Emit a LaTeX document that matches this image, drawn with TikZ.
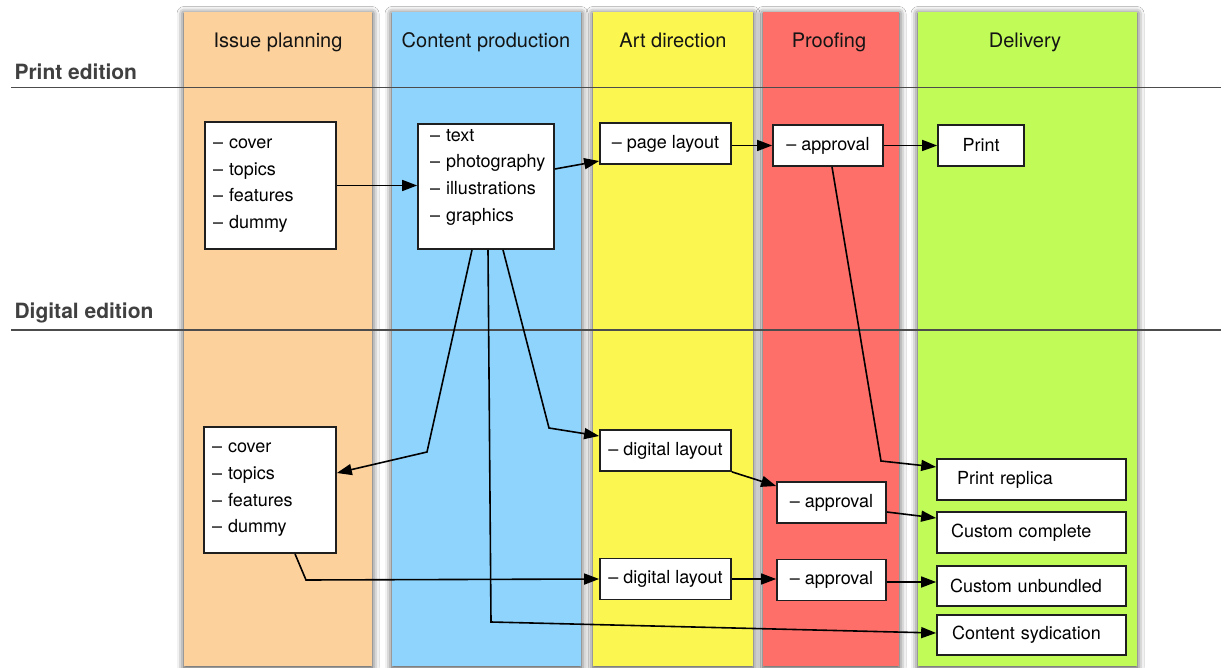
\documentclass[tikz,border=0pt]{standalone}
\usepackage{fontspec}
\setmainfont{TeX Gyre Heros}
\usetikzlibrary{arrows.meta,shadows.blur}

\definecolor{laneplan}{HTML}{FCD19C}
\definecolor{laneprod}{HTML}{8FD4FD}
\definecolor{laneart}{HTML}{FBF750}
\definecolor{laneproof}{HTML}{FE6F6A}
\definecolor{lanedeliv}{HTML}{C1FB58}

\hyphenpenalty=10000
\exhyphenpenalty=10000
\hfuzz=20pt

\begin{document}
\begin{tikzpicture}[x=1pt,y=-1pt,
  lane/.style={fill=#1, blur shadow={shadow xshift=0pt, shadow yshift=-1.5pt,
      shadow blur radius=7pt, shadow opacity=80}},
  lanehead/.style={font=\fontsize{20}{24}\selectfont, anchor=base, text=black!92},
  rowlabel/.style={font=\fontsize{21}{25}\selectfont\bfseries, anchor=base west, text=black!75},
  rowrule/.style={draw=black!70, line width=1.4pt},
  box/.style={draw=black!88, fill=white, line width=1.7pt,
      font=\fontsize{18}{26.7}\selectfont, inner sep=0pt},
  listbox/.style={box, align=left, inner xsep=8pt, text width=#1},
  onebox/.style={box, minimum height=41pt},
  flow/.style={draw=black, line width=1.6pt, -{Triangle[length=15pt,width=11pt]}}
]
% page
\fill[white] (0,0) rectangle (1224,668);
\path[use as bounding box] (0,0) rectangle (1224,668);

% swimlanes
\path[lane=laneplan]  (184,12) rectangle (372,666);
\path[lane=laneprod]  (392,12) rectangle (581,666);
\path[lane=laneart]   (593,12) rectangle (753,666);
\path[lane=laneproof] (763,12) rectangle (899,666);
\path[lane=lanedeliv] (918,12) rectangle (1137,666);

\node[lanehead] (hplan)  at (278,47.3)  {Issue planning};
\node[lanehead] (hprod)  at (486,47.3)  {Content production};
\node[lanehead] (hart)   at (673,47.3)  {Art direction};
\node[lanehead] (hproof) at (829,47.3)  {Proofing};
\node[lanehead] (hdeliv) at (1025,47.3) {Delivery};

% edition rows
\draw[rowrule] (11,87.5) -- (1221,87.5);
\draw[rowrule] (11,330) -- (1221,330);
\node[rowlabel] (rprint)   at (11,79.5) {Print edition};
\node[rowlabel] (rdigital) at (11,319)  {Digital edition};

% print edition
\node[listbox=115pt, minimum height=127pt] (ip1) at (270.5,185.5)
  {–~cover\\–~topics\\–~features\\–~dummy};
\node[listbox=112pt, inner xsep=12pt, minimum height=125pt, text depth=103pt] (cp1) at (486,186.5)
  {–~text\\–~photography\\–~illustrations\\–~graphics};
\node[onebox, minimum width=131pt] (ad1) at (665.5,143.5) {–~page layout};
\node[onebox, minimum width=110pt] (pr1) at (828,145.5) {–~approval};
\node[onebox, minimum width=86pt]  (dl1) at (981,145.5) {Print};

% digital edition
\node[listbox=116pt, minimum height=126pt] (ip2) at (270,490)
  {–~cover\\–~topics\\–~features\\–~dummy};
\node[onebox, minimum width=131pt] (ad2) at (665.5,450.5) {–~digital layout};
\node[onebox, minimum width=109pt] (pr2) at (831.5,502.5) {–~approval};
\node[onebox, minimum width=131pt] (ad3) at (665.5,579) {–~digital layout};
\node[onebox, minimum width=109pt] (pr3) at (831.5,580) {–~approval};

\node[box, align=left, inner xsep=20pt, text width=149pt, minimum height=41pt]
  (replica) at (1031.5,479.5) {Print replica};
\node[box, align=left, inner xsep=14pt, text width=161pt, minimum height=41pt]
  (complete) at (1031.5,532.5) {Custom complete};
\node[box, align=left, inner xsep=13pt, text width=163pt, minimum height=40pt]
  (unbundled) at (1031.5,586) {Custom unbundled};
\node[box, align=left, inner xsep=15pt, text width=159pt, minimum height=40pt]
  (syndication) at (1031.5,635) {Content sydication};

% bend points
\coordinate (kreplica) at (881,461);
\coordinate (kplan)    at (427,452);
\coordinate (klayout)  at (549,428);
\coordinate (ksynd)    at (491,622);
\coordinate (kdigital) at (306,580);

% print flow
\draw[flow] (ip1.east) -- (ip1.east -| cp1.west);
\draw[flow] ([yshift=17.5pt]cp1.east) -- ([yshift=-17.5pt]ad1.west);
\draw[flow] (pr1.west -| ad1.east) -- (pr1.west);
\draw[flow] (pr1.east) -- (pr1.east -| dl1.west);
\draw[flow] ([xshift=4pt]pr1.south) -- (kreplica) -- ([yshift=12.5pt]replica.west);

% content feeding the digital edition
\draw[flow] ([xshift=-14pt]cp1.south) -- (kplan) -- ([yshift=17pt]ip2.east);
\draw[flow] ([xshift=17pt]cp1.south) -- (klayout) -- ([yshift=14.5pt]ad2.west);
\draw[flow] ([xshift=2pt]cp1.south) -- (ksynd) -- ([yshift=2pt]syndication.west);

% digital flow
\draw[flow] ([xshift=25pt]ip2.south) -- (kdigital) -- (ad3.west);
\draw[flow] (ad2.south east) -- ([yshift=16.5pt]pr2.west);
\draw[flow] ([yshift=-9.5pt]pr2.east) -- ([yshift=14.5pt]complete.west);
\draw[flow] (ad3.east) -- (ad3.east -| pr3.west);
\draw[flow] ([yshift=-2pt]pr3.east) -- ([yshift=-2pt]pr3.east -| unbundled.west);
\end{tikzpicture}
\end{document}
